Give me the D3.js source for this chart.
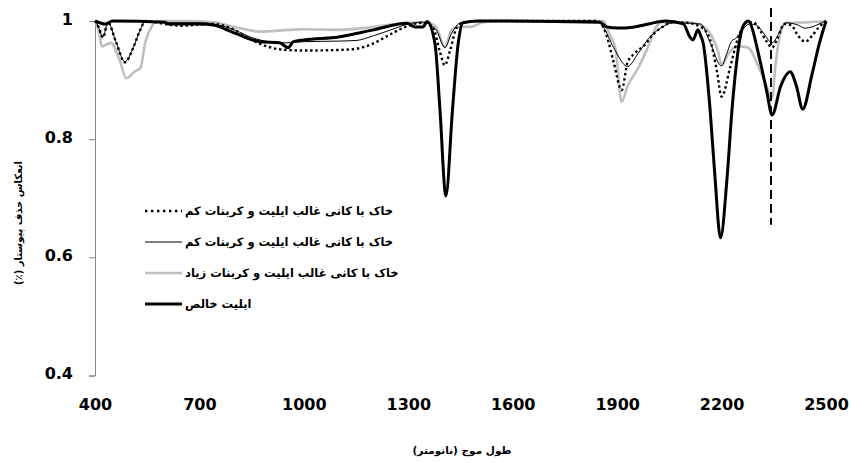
<!DOCTYPE html>
<html><head><meta charset="utf-8">
<script src="https://cdn.jsdelivr.net/npm/d3@7"></script>
<style>body{margin:0;background:#fff}svg{display:block}</style>
</head><body><div id="chart"></div>
<script>
// ---- data ----
const xTicks = [400, 700, 1000, 1300, 1600, 1900, 2200, 2500];
const yTicks = [0.4, 0.6, 0.8, 1];
const yTickLabels = ["0.4", "0.6", "0.8", "1"];
const xTitle = "طول موج (نانومتر)";
const yTitle = "انعکاس حذف پیوستار (٪)";
const legendLabels = [
  "خاک با کانی غالب ایلیت و کربنات کم",
  "خاک با کانی غالب ایلیت و کربنات کم",
  "خاک با کانی غالب ایلیت و کربنات زیاد",
  "ایلیت خالص"
];
const refWavelength = 2342;

// series 1: dotted
const dottedWl = [400,410,423,437,460,486,510,530,545,600,650,700,740,800,850,900,930,1000,1100,1150,1200,1250,1300,1340,1370,1390,1405,1420,1440,1460,1500,1840,1850,1870,1890,1913,1930,1950,1980,2000,2030,2060,2100,2140,2166,2187,2200,2224,2244,2261,2276,2290,2310,2330,2345,2360,2380,2400,2420,2440,2460,2480,2500];
const dottedVal = [1.0,0.99,0.972,0.998,0.965,0.93,0.955,0.985,1.0,0.995,0.992,0.994,0.995,0.985,0.968,0.956,0.952,0.95,0.951,0.953,0.962,0.978,0.992,0.997,0.99,0.95,0.925,0.95,0.99,0.998,1.0,1.0,0.998,0.975,0.93,0.883,0.93,0.945,0.96,0.975,0.99,0.998,0.997,0.99,0.97,0.914,0.872,0.92,0.965,0.99,0.998,0.998,0.985,0.965,0.955,0.97,0.995,0.993,0.975,0.965,0.975,0.99,1.0];

// series 2: thin black
const thinWl = [400,410,423,437,460,486,510,530,545,600,700,740,800,850,900,950,1000,1100,1150,1200,1250,1300,1340,1380,1405,1425,1450,1500,1840,1860,1890,1930,1960,1990,2030,2060,2140,2166,2200,2215,2230,2240,2260,2280,2300,2320,2345,2370,2385,2420,2440,2460,2480,2500];
const thinVal = [1.0,0.99,0.973,0.998,0.965,0.931,0.955,0.985,1.0,0.997,0.997,0.995,0.985,0.972,0.965,0.963,0.965,0.966,0.967,0.975,0.985,0.995,0.998,0.985,0.955,0.98,0.997,1.0,1.0,0.99,0.955,0.923,0.945,0.97,0.99,0.997,0.995,0.965,0.924,0.945,0.967,0.97,0.985,0.995,0.993,0.98,0.963,0.985,0.997,0.993,0.988,0.99,0.995,1.0];

// series 3: grey (high carbonate)
const greyWl = [400,410,420,445,470,490,515,530,545,565,575,650,740,800,874,960,1000,1100,1200,1300,1350,1380,1405,1425,1450,1480,1510,1550,1860,1880,1895,1913,1930,1960,1990,2010,2030,2100,2140,2170,2190,2200,2220,2245,2275,2310,2330,2345,2355,2370,2385,2450,2500];
const greyVal = [1.0,0.985,0.957,0.963,0.935,0.903,0.915,0.92,0.965,0.993,1.0,1.0,0.998,0.99,0.982,0.985,0.986,0.985,0.99,0.997,0.998,0.99,0.956,0.985,0.99,0.99,0.997,1.0,1.0,0.975,0.954,0.863,0.89,0.92,0.958,0.988,0.998,0.998,0.993,0.976,0.948,0.926,0.945,0.957,0.955,0.917,0.889,0.87,0.926,0.982,0.997,0.998,1.0];

// series 4: pure illite (thick black)
const illiteWl = [400,430,450,600,610,700,740,800,874,930,955,970,1000,1100,1200,1296,1320,1342,1354,1377,1391,1408,1427,1443,1457,1500,1850,1870,1900,1950,1990,2040,2090,2109,2118,2132,2140,2147,2167,2181,2197,2216,2230,2244,2261,2276,2310,2330,2345,2370,2397,2415,2433,2460,2480,2500];
const illiteVal = [1.0,0.995,1.0,0.998,0.995,0.995,0.993,0.98,0.965,0.963,0.955,0.965,0.968,0.973,0.985,0.996,0.99,0.99,0.999,0.96,0.85,0.704,0.85,0.96,0.997,1.0,0.998,0.99,0.988,0.99,0.995,1.0,0.995,0.973,0.968,0.985,0.975,0.963,0.85,0.736,0.633,0.736,0.85,0.934,0.99,1.0,0.934,0.88,0.841,0.89,0.914,0.89,0.851,0.91,0.96,1.0];

// ---- chart ----
const W = 851, H = 463;
const svg = d3.select("#chart").append("svg").attr("width", W).attr("height", H);
svg.append("rect").attr("width", W).attr("height", H).attr("fill", "#fff");

const x = d3.scaleLinear().domain([400, 2500]).range([95, 826]);
const y = d3.scaleLinear().domain([0.4, 1]).range([375.5, 21]);

// y axis
const yAxis = svg.append("g").attr("transform", `translate(${x(400)},0)`)
  .call(d3.axisLeft(y).tickValues(yTicks).tickSize(6).tickPadding(16)
    .tickFormat((d, i) => yTickLabels[i]));
yAxis.select(".domain").attr("stroke", "#868686");
yAxis.selectAll(".tick line").attr("stroke", "#868686");
yAxis.selectAll("text").attr("font-family", "DejaVu Sans").attr("font-weight", "bold")
  .attr("font-size", 16).attr("fill", "#000").attr("dy", "0.2em");

// x axis (labels only)
const xAxis = svg.append("g").attr("transform", `translate(0,${y(0.4)})`)
  .call(d3.axisBottom(x).tickValues(xTicks).tickSize(0).tickPadding(23).tickFormat(d3.format("d")));
xAxis.select(".domain").remove();
xAxis.selectAll("text").attr("font-family", "DejaVu Sans").attr("font-weight", "bold")
  .attr("font-size", 16).attr("fill", "#000");

// titles
svg.append("text").attr("x", 462).attr("y", 454).attr("text-anchor", "middle")
  .attr("direction", "rtl").style("direction", "rtl")
  .attr("font-family", "DejaVu Sans").attr("font-weight", "bold").attr("font-size", 10.5)
  .text(xTitle);
svg.append("text").attr("transform", "translate(22,223) rotate(-90)").attr("text-anchor", "middle")
  .attr("direction", "rtl").style("direction", "rtl")
  .attr("font-family", "DejaVu Sans").attr("font-weight", "bold").attr("font-size", 10)
  .text(yTitle);

const line = d3.line().x(d => x(d[0])).y(d => y(d[1])).curve(d3.curveMonotoneX);
const zip = (a, b) => a.map((v, i) => [v, b[i]]);

const series = [
  {wl: greyWl, val: greyVal, stroke: "#bfbfbf", width: 2.6, dash: null},
  {wl: thinWl, val: thinVal, stroke: "#000", width: 1, dash: null},
  {wl: dottedWl, val: dottedVal, stroke: "#000", width: 2.4, dash: "2.4,2.8"},
  {wl: illiteWl, val: illiteVal, stroke: "#000", width: 3, dash: null}
];
series.forEach(s => {
  svg.append("path").datum(zip(s.wl, s.val)).attr("d", line)
    .attr("fill", "none").attr("stroke", s.stroke).attr("stroke-width", s.width)
    .attr("stroke-dasharray", s.dash).attr("stroke-linejoin", "round");
});

// reference dashed line
svg.append("line").attr("x1", x(refWavelength)).attr("x2", x(refWavelength))
  .attr("y1", y(1.022)).attr("y2", y(0.655))
  .attr("stroke", "#000").attr("stroke-width", 2).attr("stroke-dasharray", "9,5");

// legend
const legStyles = [
  {stroke: "#000", width: 2.4, dash: "2.4,3.6"},
  {stroke: "#000", width: 1, dash: null},
  {stroke: "#bfbfbf", width: 2.6, dash: null},
  {stroke: "#000", width: 3, dash: null}
];
const legY = [211, 242, 273, 304];
legendLabels.forEach((t, i) => {
  svg.append("line").attr("x1", 145).attr("x2", 182).attr("y1", legY[i]).attr("y2", legY[i])
    .attr("stroke", legStyles[i].stroke).attr("stroke-width", legStyles[i].width)
    .attr("stroke-dasharray", legStyles[i].dash);
  svg.append("text").attr("x", 185).attr("y", legY[i] + 4).attr("text-anchor", "end")
    .attr("direction", "rtl").style("direction", "rtl")
    .attr("font-family", "DejaVu Sans").attr("font-weight", "bold").attr("font-size", 11.5)
    .text(t);
});
</script></body></html>
